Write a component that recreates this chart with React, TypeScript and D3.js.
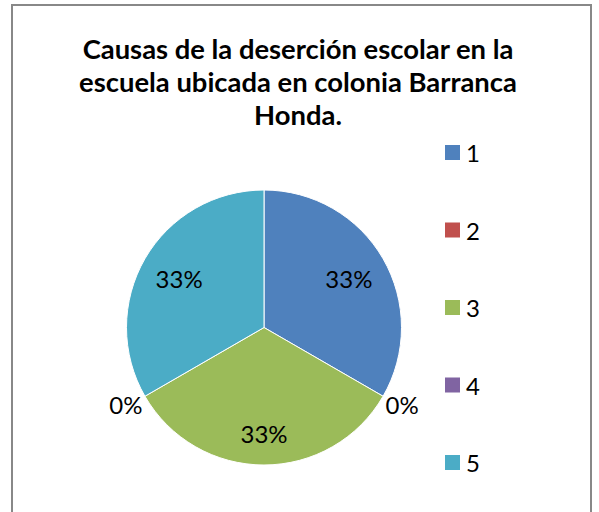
import React from "react";
import * as d3 from "d3";

const categories = ["1", "2", "3", "4", "5"];
const values = [1, 0, 1, 0, 1];
const colors = ["#4F81BD", "#C0504D", "#9BBB59", "#8064A2", "#4BACC6"];
const titleLines = [
  "Causas de la deserción escolar en la",
  "escuela ubicada en colonia Barranca",
  "Honda.",
];

const W = 599;
const H = 512;
const FONT = "Lato, 'Open Sans', sans-serif";

export default function App() {
  const cx = 264;
  const cy = 327.5;
  const R = 137.5;
  const total = d3.sum(values);
  const pie = d3.pie<number>().sort(null).value((d) => d);
  const arcs = pie(values);
  const arc = d3.arc<d3.PieArcDatum<number>>().innerRadius(0).outerRadius(R);
  const fmt = d3.format(".0%");

  const legendY = d3
    .scalePoint<string>()
    .domain(categories)
    .range([152.5, 462.5]);

  return (
    <svg
      width={W}
      height={H}
      style={{ position: "absolute", left: 0, top: 0, background: "#fff" }}
    >
      <rect x={0} y={0} width={W} height={H} fill="#fff" />
      <rect
        x={12}
        y={5}
        width={579}
        height={H + 20}
        fill="#fff"
        stroke="#888888"
        strokeWidth={2}
      />
      {titleLines.map((t, i) => (
        <text
          key={i}
          x={298}
          y={58.5 + i * 33.3}
          textAnchor="middle"
          fontFamily={FONT}
          fontWeight="bold"
          fontSize={27.4}
          fill="#000"
        >
          {t}
        </text>
      ))}
      <g transform={`translate(${cx},${cy})`}>
        {arcs.map((a, i) =>
          a.value > 0 ? (
            <path
              key={i}
              d={arc(a) || ""}
              fill={colors[i]}
              stroke="#fff"
              strokeWidth={1}
            />
          ) : null
        )}
        {arcs.map((a, i) => {
          const mid = (a.startAngle + a.endAngle) / 2;
          const inside = a.value > 0;
          const r = inside ? 98 : R + 22;
          const x = Math.sin(mid) * r;
          const y = -Math.cos(mid) * r;
          return (
            <text
              key={"l" + i}
              x={x}
              y={y + (inside && Math.abs(mid - Math.PI) < 0.1 ? 8 : inside ? 0 : -3)}
              textAnchor="middle"
              dominantBaseline="central"
              fontFamily={FONT}
              fontSize={24}
              fill="#000"
            >
              {fmt(a.value / total)}
            </text>
          );
        })}
      </g>
      {categories.map((c, i) => (
        <g key={c} transform={`translate(445,${legendY(c)})`}>
          <rect x={0} y={-7.5} width={15} height={15} fill={colors[i]} />
          <text
            x={21}
            y={0}
            dominantBaseline="central"
            fontFamily={FONT}
            fontSize={24}
            fill="#000"
          >
            {c}
          </text>
        </g>
      ))}
    </svg>
  );
}
